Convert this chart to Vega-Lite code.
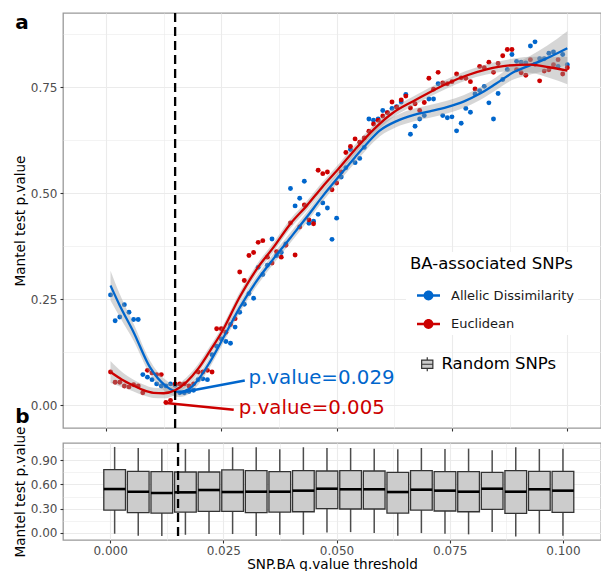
{
  "$schema": "https://vega.github.io/schema/vega-lite/v6.json",
  "padding": {"left": 12, "top": 11, "right": 0, "bottom": 0},
  "autosize": {"type": "pad"},
  "bounds": "flush",
  "spacing": 15,
  "config": {
    "font": "DejaVu Sans",
    "view": {"stroke": "#999999", "strokeWidth": 1.3},
    "axis": {"labelFont": "DejaVu Sans", "labelFontSize": 12, "labelColor": "#4D4D4D", "tickColor": "#333333", "tickSize": 3, "tickWidth": 1.1, "labelPadding": 3, "titleFont": "DejaVu Sans", "titleFontSize": 13.6, "titleFontWeight": "normal", "titleColor": "#000000", "gridColor": "#EBEBEB", "domain": false},
    "legend": {"labelFont": "DejaVu Sans", "titleFont": "DejaVu Sans"},
    "title": {"font": "DejaVu Sans"}
  },
  "datasets": {
    "pts": [
      {"x":0.001,"v":0.260,"s":"Allelic Dissimilarity"},{"x":0.002,"v":0.199,"s":"Allelic Dissimilarity"},{"x":0.003,"v":0.208,"s":"Allelic Dissimilarity"},{"x":0.004,"v":0.237,"s":"Allelic Dissimilarity"},{"x":0.005,"v":0.219,"s":"Allelic Dissimilarity"},{"x":0.006,"v":0.202,"s":"Allelic Dissimilarity"},{"x":0.007,"v":0.202,"s":"Allelic Dissimilarity"},{"x":0.008,"v":0.072,"s":"Allelic Dissimilarity"},{"x":0.009,"v":0.066,"s":"Allelic Dissimilarity"},{"x":0.010,"v":0.060,"s":"Allelic Dissimilarity"},
      {"x":0.011,"v":0.050,"s":"Allelic Dissimilarity"},{"x":0.012,"v":0.045,"s":"Allelic Dissimilarity"},{"x":0.013,"v":0.045,"s":"Allelic Dissimilarity"},{"x":0.014,"v":0.050,"s":"Allelic Dissimilarity"},{"x":0.015,"v":0.047,"s":"Allelic Dissimilarity"},{"x":0.016,"v":0.029,"s":"Allelic Dissimilarity"},{"x":0.017,"v":0.029,"s":"Allelic Dissimilarity"},{"x":0.018,"v":0.032,"s":"Allelic Dissimilarity"},{"x":0.019,"v":0.035,"s":"Allelic Dissimilarity"},{"x":0.020,"v":0.060,"s":"Allelic Dissimilarity"},
      {"x":0.021,"v":0.062,"s":"Allelic Dissimilarity"},{"x":0.022,"v":0.060,"s":"Allelic Dissimilarity"},{"x":0.023,"v":0.119,"s":"Allelic Dissimilarity"},{"x":0.024,"v":0.139,"s":"Allelic Dissimilarity"},{"x":0.025,"v":0.156,"s":"Allelic Dissimilarity"},{"x":0.026,"v":0.150,"s":"Allelic Dissimilarity"},{"x":0.027,"v":0.146,"s":"Allelic Dissimilarity"},{"x":0.028,"v":0.184,"s":"Allelic Dissimilarity"},{"x":0.029,"v":0.219,"s":"Allelic Dissimilarity"},{"x":0.030,"v":0.238,"s":"Allelic Dissimilarity"},
      {"x":0.031,"v":0.263,"s":"Allelic Dissimilarity"},{"x":0.032,"v":0.252,"s":"Allelic Dissimilarity"},{"x":0.033,"v":0.325,"s":"Allelic Dissimilarity"},{"x":0.034,"v":0.308,"s":"Allelic Dissimilarity"},{"x":0.035,"v":0.330,"s":"Allelic Dissimilarity"},{"x":0.036,"v":0.392,"s":"Allelic Dissimilarity"},{"x":0.037,"v":0.353,"s":"Allelic Dissimilarity"},{"x":0.038,"v":0.360,"s":"Allelic Dissimilarity"},{"x":0.039,"v":0.380,"s":"Allelic Dissimilarity"},{"x":0.040,"v":0.511,"s":"Allelic Dissimilarity"},
      {"x":0.041,"v":0.470,"s":"Allelic Dissimilarity"},{"x":0.042,"v":0.488,"s":"Allelic Dissimilarity"},{"x":0.043,"v":0.528,"s":"Allelic Dissimilarity"},{"x":0.044,"v":0.429,"s":"Allelic Dissimilarity"},{"x":0.045,"v":0.434,"s":"Allelic Dissimilarity"},{"x":0.046,"v":0.450,"s":"Allelic Dissimilarity"},{"x":0.047,"v":0.477,"s":"Allelic Dissimilarity"},{"x":0.048,"v":0.465,"s":"Allelic Dissimilarity"},{"x":0.049,"v":0.391,"s":"Allelic Dissimilarity"},{"x":0.050,"v":0.441,"s":"Allelic Dissimilarity"},
      {"x":0.051,"v":0.538,"s":"Allelic Dissimilarity"},{"x":0.052,"v":0.560,"s":"Allelic Dissimilarity"},{"x":0.053,"v":0.603,"s":"Allelic Dissimilarity"},{"x":0.054,"v":0.572,"s":"Allelic Dissimilarity"},{"x":0.055,"v":0.582,"s":"Allelic Dissimilarity"},{"x":0.056,"v":0.608,"s":"Allelic Dissimilarity"},{"x":0.057,"v":0.675,"s":"Allelic Dissimilarity"},{"x":0.058,"v":0.672,"s":"Allelic Dissimilarity"},{"x":0.059,"v":0.675,"s":"Allelic Dissimilarity"},{"x":0.060,"v":0.695,"s":"Allelic Dissimilarity"},
      {"x":0.061,"v":0.690,"s":"Allelic Dissimilarity"},{"x":0.062,"v":0.700,"s":"Allelic Dissimilarity"},{"x":0.063,"v":0.704,"s":"Allelic Dissimilarity"},{"x":0.064,"v":0.715,"s":"Allelic Dissimilarity"},{"x":0.065,"v":0.733,"s":"Allelic Dissimilarity"},{"x":0.066,"v":0.639,"s":"Allelic Dissimilarity"},{"x":0.067,"v":0.658,"s":"Allelic Dissimilarity"},{"x":0.068,"v":0.675,"s":"Allelic Dissimilarity"},{"x":0.069,"v":0.683,"s":"Allelic Dissimilarity"},{"x":0.070,"v":0.722,"s":"Allelic Dissimilarity"},
      {"x":0.071,"v":0.722,"s":"Allelic Dissimilarity"},{"x":0.072,"v":0.758,"s":"Allelic Dissimilarity"},{"x":0.073,"v":0.683,"s":"Allelic Dissimilarity"},{"x":0.074,"v":0.678,"s":"Allelic Dissimilarity"},{"x":0.075,"v":0.680,"s":"Allelic Dissimilarity"},{"x":0.076,"v":0.647,"s":"Allelic Dissimilarity"},{"x":0.077,"v":0.665,"s":"Allelic Dissimilarity"},{"x":0.078,"v":0.700,"s":"Allelic Dissimilarity"},{"x":0.079,"v":0.691,"s":"Allelic Dissimilarity"},{"x":0.080,"v":0.734,"s":"Allelic Dissimilarity"},
      {"x":0.081,"v":0.742,"s":"Allelic Dissimilarity"},{"x":0.082,"v":0.752,"s":"Allelic Dissimilarity"},{"x":0.083,"v":0.713,"s":"Allelic Dissimilarity"},{"x":0.084,"v":0.675,"s":"Allelic Dissimilarity"},{"x":0.085,"v":0.735,"s":"Allelic Dissimilarity"},{"x":0.086,"v":0.768,"s":"Allelic Dissimilarity"},{"x":0.087,"v":0.792,"s":"Allelic Dissimilarity"},{"x":0.088,"v":0.827,"s":"Allelic Dissimilarity"},{"x":0.089,"v":0.811,"s":"Allelic Dissimilarity"},{"x":0.090,"v":0.809,"s":"Allelic Dissimilarity"},
      {"x":0.091,"v":0.807,"s":"Allelic Dissimilarity"},{"x":0.092,"v":0.847,"s":"Allelic Dissimilarity"},{"x":0.093,"v":0.857,"s":"Allelic Dissimilarity"},{"x":0.094,"v":0.817,"s":"Allelic Dissimilarity"},{"x":0.095,"v":0.817,"s":"Allelic Dissimilarity"},{"x":0.096,"v":0.830,"s":"Allelic Dissimilarity"},{"x":0.097,"v":0.833,"s":"Allelic Dissimilarity"},{"x":0.098,"v":0.799,"s":"Allelic Dissimilarity"},{"x":0.099,"v":0.827,"s":"Allelic Dissimilarity"},{"x":0.100,"v":0.803,"s":"Allelic Dissimilarity"},
      {"x":0.001,"v":0.078,"s":"Euclidean"},{"x":0.002,"v":0.054,"s":"Euclidean"},{"x":0.003,"v":0.054,"s":"Euclidean"},{"x":0.004,"v":0.045,"s":"Euclidean"},{"x":0.005,"v":0.043,"s":"Euclidean"},{"x":0.006,"v":0.048,"s":"Euclidean"},{"x":0.007,"v":0.045,"s":"Euclidean"},{"x":0.008,"v":0.029,"s":"Euclidean"},{"x":0.009,"v":0.082,"s":"Euclidean"},{"x":0.010,"v":0.076,"s":"Euclidean"},
      {"x":0.011,"v":0.072,"s":"Euclidean"},{"x":0.012,"v":0.072,"s":"Euclidean"},{"x":0.013,"v":0.006,"s":"Euclidean"},{"x":0.014,"v":0.011,"s":"Euclidean"},{"x":0.015,"v":0.050,"s":"Euclidean"},{"x":0.016,"v":0.050,"s":"Euclidean"},{"x":0.017,"v":0.050,"s":"Euclidean"},{"x":0.018,"v":0.045,"s":"Euclidean"},{"x":0.019,"v":0.050,"s":"Euclidean"},{"x":0.020,"v":0.078,"s":"Euclidean"},
      {"x":0.021,"v":0.078,"s":"Euclidean"},{"x":0.022,"v":0.082,"s":"Euclidean"},{"x":0.023,"v":0.078,"s":"Euclidean"},{"x":0.024,"v":0.180,"s":"Euclidean"},{"x":0.025,"v":0.180,"s":"Euclidean"},{"x":0.026,"v":0.172,"s":"Euclidean"},{"x":0.027,"v":0.190,"s":"Euclidean"},{"x":0.028,"v":0.204,"s":"Euclidean"},{"x":0.029,"v":0.314,"s":"Euclidean"},{"x":0.030,"v":0.294,"s":"Euclidean"},
      {"x":0.031,"v":0.353,"s":"Euclidean"},{"x":0.032,"v":0.360,"s":"Euclidean"},{"x":0.033,"v":0.384,"s":"Euclidean"},{"x":0.034,"v":0.388,"s":"Euclidean"},{"x":0.035,"v":0.349,"s":"Euclidean"},{"x":0.036,"v":0.335,"s":"Euclidean"},{"x":0.037,"v":0.362,"s":"Euclidean"},{"x":0.038,"v":0.349,"s":"Euclidean"},{"x":0.039,"v":0.377,"s":"Euclidean"},{"x":0.040,"v":0.430,"s":"Euclidean"},
      {"x":0.041,"v":0.354,"s":"Euclidean"},{"x":0.042,"v":0.420,"s":"Euclidean"},{"x":0.043,"v":0.472,"s":"Euclidean"},{"x":0.044,"v":0.437,"s":"Euclidean"},{"x":0.045,"v":0.428,"s":"Euclidean"},{"x":0.046,"v":0.554,"s":"Euclidean"},{"x":0.047,"v":0.546,"s":"Euclidean"},{"x":0.048,"v":0.550,"s":"Euclidean"},{"x":0.049,"v":0.508,"s":"Euclidean"},{"x":0.050,"v":0.524,"s":"Euclidean"},
      {"x":0.051,"v":0.550,"s":"Euclidean"},{"x":0.052,"v":0.596,"s":"Euclidean"},{"x":0.053,"v":0.610,"s":"Euclidean"},{"x":0.054,"v":0.628,"s":"Euclidean"},{"x":0.055,"v":0.620,"s":"Euclidean"},{"x":0.056,"v":0.630,"s":"Euclidean"},{"x":0.057,"v":0.646,"s":"Euclidean"},{"x":0.058,"v":0.663,"s":"Euclidean"},{"x":0.059,"v":0.672,"s":"Euclidean"},{"x":0.060,"v":0.682,"s":"Euclidean"},
      {"x":0.061,"v":0.690,"s":"Euclidean"},{"x":0.062,"v":0.715,"s":"Euclidean"},{"x":0.063,"v":0.703,"s":"Euclidean"},{"x":0.064,"v":0.720,"s":"Euclidean"},{"x":0.065,"v":0.729,"s":"Euclidean"},{"x":0.066,"v":0.701,"s":"Euclidean"},{"x":0.067,"v":0.711,"s":"Euclidean"},{"x":0.068,"v":0.695,"s":"Euclidean"},{"x":0.069,"v":0.714,"s":"Euclidean"},{"x":0.070,"v":0.771,"s":"Euclidean"},
      {"x":0.071,"v":0.745,"s":"Euclidean"},{"x":0.072,"v":0.785,"s":"Euclidean"},{"x":0.073,"v":0.760,"s":"Euclidean"},{"x":0.074,"v":0.758,"s":"Euclidean"},{"x":0.075,"v":0.763,"s":"Euclidean"},{"x":0.076,"v":0.781,"s":"Euclidean"},{"x":0.077,"v":0.772,"s":"Euclidean"},{"x":0.078,"v":0.771,"s":"Euclidean"},{"x":0.079,"v":0.763,"s":"Euclidean"},{"x":0.080,"v":0.746,"s":"Euclidean"},
      {"x":0.081,"v":0.799,"s":"Euclidean"},{"x":0.082,"v":0.796,"s":"Euclidean"},{"x":0.083,"v":0.809,"s":"Euclidean"},{"x":0.084,"v":0.785,"s":"Euclidean"},{"x":0.085,"v":0.806,"s":"Euclidean"},{"x":0.086,"v":0.824,"s":"Euclidean"},{"x":0.087,"v":0.839,"s":"Euclidean"},{"x":0.088,"v":0.839,"s":"Euclidean"},{"x":0.089,"v":0.791,"s":"Euclidean"},{"x":0.090,"v":0.784,"s":"Euclidean"},
      {"x":0.091,"v":0.778,"s":"Euclidean"},{"x":0.092,"v":0.815,"s":"Euclidean"},{"x":0.093,"v":0.804,"s":"Euclidean"},{"x":0.094,"v":0.765,"s":"Euclidean"},{"x":0.095,"v":0.788,"s":"Euclidean"},{"x":0.096,"v":0.791,"s":"Euclidean"},{"x":0.097,"v":0.803,"s":"Euclidean"},{"x":0.098,"v":0.815,"s":"Euclidean"},{"x":0.099,"v":0.781,"s":"Euclidean"},{"x":0.100,"v":0.796,"s":"Euclidean"}
    ],
    "fit": [
      {"x":0.001,"f":0.282,"lo":0.247,"hi":0.317,"s":"Allelic Dissimilarity"},
      {"x":0.003,"f":0.235,"lo":0.208,"hi":0.262,"s":"Allelic Dissimilarity"},
      {"x":0.006,"f":0.172,"lo":0.152,"hi":0.192,"s":"Allelic Dissimilarity"},
      {"x":0.0095,"f":0.090,"lo":0.074,"hi":0.106,"s":"Allelic Dissimilarity"},
      {"x":0.013,"f":0.045,"lo":0.031,"hi":0.059,"s":"Allelic Dissimilarity"},
      {"x":0.016,"f":0.031,"lo":0.019,"hi":0.043,"s":"Allelic Dissimilarity"},
      {"x":0.018,"f":0.038,"lo":0.026,"hi":0.050,"s":"Allelic Dissimilarity"},
      {"x":0.020,"f":0.060,"lo":0.048,"hi":0.072,"s":"Allelic Dissimilarity"},
      {"x":0.0225,"f":0.101,"lo":0.089,"hi":0.113,"s":"Allelic Dissimilarity"},
      {"x":0.026,"f":0.170,"lo":0.158,"hi":0.182,"s":"Allelic Dissimilarity"},
      {"x":0.029,"f":0.230,"lo":0.218,"hi":0.242,"s":"Allelic Dissimilarity"},
      {"x":0.0325,"f":0.290,"lo":0.278,"hi":0.302,"s":"Allelic Dissimilarity"},
      {"x":0.0363,"f":0.345,"lo":0.333,"hi":0.357,"s":"Allelic Dissimilarity"},
      {"x":0.040,"f":0.395,"lo":0.383,"hi":0.407,"s":"Allelic Dissimilarity"},
      {"x":0.0435,"f":0.443,"lo":0.431,"hi":0.455,"s":"Allelic Dissimilarity"},
      {"x":0.047,"f":0.493,"lo":0.481,"hi":0.505,"s":"Allelic Dissimilarity"},
      {"x":0.0507,"f":0.542,"lo":0.530,"hi":0.554,"s":"Allelic Dissimilarity"},
      {"x":0.054,"f":0.585,"lo":0.572,"hi":0.598,"s":"Allelic Dissimilarity"},
      {"x":0.0565,"f":0.616,"lo":0.603,"hi":0.629,"s":"Allelic Dissimilarity"},
      {"x":0.0594,"f":0.648,"lo":0.634,"hi":0.662,"s":"Allelic Dissimilarity"},
      {"x":0.063,"f":0.670,"lo":0.656,"hi":0.684,"s":"Allelic Dissimilarity"},
      {"x":0.0666,"f":0.684,"lo":0.669,"hi":0.699,"s":"Allelic Dissimilarity"},
      {"x":0.0702,"f":0.693,"lo":0.678,"hi":0.708,"s":"Allelic Dissimilarity"},
      {"x":0.0739,"f":0.703,"lo":0.688,"hi":0.718,"s":"Allelic Dissimilarity"},
      {"x":0.0775,"f":0.716,"lo":0.701,"hi":0.731,"s":"Allelic Dissimilarity"},
      {"x":0.0811,"f":0.735,"lo":0.720,"hi":0.750,"s":"Allelic Dissimilarity"},
      {"x":0.0845,"f":0.758,"lo":0.743,"hi":0.773,"s":"Allelic Dissimilarity"},
      {"x":0.0883,"f":0.785,"lo":0.768,"hi":0.802,"s":"Allelic Dissimilarity"},
      {"x":0.092,"f":0.802,"lo":0.780,"hi":0.824,"s":"Allelic Dissimilarity"},
      {"x":0.0955,"f":0.818,"lo":0.789,"hi":0.847,"s":"Allelic Dissimilarity"},
      {"x":0.100,"f":0.842,"lo":0.802,"hi":0.882,"s":"Allelic Dissimilarity"},
      {"x":0.001,"f":0.078,"lo":0.052,"hi":0.104,"s":"Euclidean"},
      {"x":0.0035,"f":0.060,"lo":0.042,"hi":0.078,"s":"Euclidean"},
      {"x":0.006,"f":0.046,"lo":0.032,"hi":0.060,"s":"Euclidean"},
      {"x":0.008,"f":0.036,"lo":0.023,"hi":0.049,"s":"Euclidean"},
      {"x":0.0103,"f":0.029,"lo":0.017,"hi":0.041,"s":"Euclidean"},
      {"x":0.0125,"f":0.028,"lo":0.016,"hi":0.040,"s":"Euclidean"},
      {"x":0.015,"f":0.035,"lo":0.024,"hi":0.046,"s":"Euclidean"},
      {"x":0.0175,"f":0.055,"lo":0.044,"hi":0.066,"s":"Euclidean"},
      {"x":0.020,"f":0.086,"lo":0.075,"hi":0.097,"s":"Euclidean"},
      {"x":0.0225,"f":0.127,"lo":0.116,"hi":0.138,"s":"Euclidean"},
      {"x":0.025,"f":0.170,"lo":0.159,"hi":0.181,"s":"Euclidean"},
      {"x":0.029,"f":0.255,"lo":0.244,"hi":0.266,"s":"Euclidean"},
      {"x":0.0325,"f":0.318,"lo":0.307,"hi":0.329,"s":"Euclidean"},
      {"x":0.0363,"f":0.372,"lo":0.361,"hi":0.383,"s":"Euclidean"},
      {"x":0.040,"f":0.428,"lo":0.417,"hi":0.439,"s":"Euclidean"},
      {"x":0.0435,"f":0.470,"lo":0.459,"hi":0.481,"s":"Euclidean"},
      {"x":0.047,"f":0.516,"lo":0.505,"hi":0.527,"s":"Euclidean"},
      {"x":0.0507,"f":0.561,"lo":0.550,"hi":0.572,"s":"Euclidean"},
      {"x":0.054,"f":0.603,"lo":0.592,"hi":0.614,"s":"Euclidean"},
      {"x":0.058,"f":0.650,"lo":0.639,"hi":0.661,"s":"Euclidean"},
      {"x":0.062,"f":0.688,"lo":0.677,"hi":0.699,"s":"Euclidean"},
      {"x":0.0666,"f":0.717,"lo":0.706,"hi":0.728,"s":"Euclidean"},
      {"x":0.070,"f":0.737,"lo":0.726,"hi":0.748,"s":"Euclidean"},
      {"x":0.0739,"f":0.758,"lo":0.747,"hi":0.769,"s":"Euclidean"},
      {"x":0.078,"f":0.777,"lo":0.766,"hi":0.788,"s":"Euclidean"},
      {"x":0.0825,"f":0.792,"lo":0.780,"hi":0.804,"s":"Euclidean"},
      {"x":0.087,"f":0.801,"lo":0.787,"hi":0.815,"s":"Euclidean"},
      {"x":0.092,"f":0.803,"lo":0.784,"hi":0.822,"s":"Euclidean"},
      {"x":0.096,"f":0.797,"lo":0.772,"hi":0.822,"s":"Euclidean"},
      {"x":0.100,"f":0.789,"lo":0.757,"hi":0.821,"s":"Euclidean"}
    ],
    "ann": [
      {"s":"Allelic Dissimilarity","x0":0.016,"y0":0.029,"x1":0.0301,"y1":0.058,"tx":0.0309,"ty":0.050,"label":"p.value=0.029"},
      {"s":"Euclidean","x0":0.013,"y0":0.005,"x1":0.0277,"y1":-0.011,"tx":0.0288,"ty":-0.0205,"label":"p.value=0.005"}
    ],
    "thr": [{"t": 0.015}],
    "box": [
      {"x":0.001,"lo":-0.012,"q1":0.282,"med":0.543,"q3":0.784,"hi":1.066,"g":"Random SNPs"},
      {"x":0.00621,"lo":-0.037,"q1":0.249,"med":0.510,"q3":0.763,"hi":1.053,"g":"Random SNPs"},
      {"x":0.01142,"lo":-0.041,"q1":0.245,"med":0.494,"q3":0.759,"hi":1.045,"g":"Random SNPs"},
      {"x":0.01663,"lo":-0.025,"q1":0.257,"med":0.502,"q3":0.755,"hi":1.041,"g":"Random SNPs"},
      {"x":0.02184,"lo":-0.016,"q1":0.266,"med":0.531,"q3":0.755,"hi":1.037,"g":"Random SNPs"},
      {"x":0.02705,"lo":-0.016,"q1":0.266,"med":0.506,"q3":0.780,"hi":1.062,"g":"Random SNPs"},
      {"x":0.03226,"lo":-0.041,"q1":0.249,"med":0.510,"q3":0.771,"hi":1.062,"g":"Random SNPs"},
      {"x":0.03747,"lo":-0.025,"q1":0.257,"med":0.510,"q3":0.759,"hi":1.037,"g":"Random SNPs"},
      {"x":0.04268,"lo":-0.025,"q1":0.261,"med":0.523,"q3":0.771,"hi":1.062,"g":"Random SNPs"},
      {"x":0.04789,"lo":0.004,"q1":0.299,"med":0.547,"q3":0.767,"hi":1.053,"g":"Random SNPs"},
      {"x":0.05311,"lo":0.008,"q1":0.295,"med":0.540,"q3":0.771,"hi":1.053,"g":"Random SNPs"},
      {"x":0.05832,"lo":-0.004,"q1":0.295,"med":0.540,"q3":0.767,"hi":1.045,"g":"Random SNPs"},
      {"x":0.06353,"lo":-0.037,"q1":0.245,"med":0.506,"q3":0.751,"hi":1.037,"g":"Random SNPs"},
      {"x":0.06874,"lo":-0.004,"q1":0.282,"med":0.535,"q3":0.771,"hi":1.053,"g":"Random SNPs"},
      {"x":0.07395,"lo":-0.012,"q1":0.270,"med":0.523,"q3":0.759,"hi":1.041,"g":"Random SNPs"},
      {"x":0.07916,"lo":-0.020,"q1":0.261,"med":0.510,"q3":0.759,"hi":1.045,"g":"Random SNPs"},
      {"x":0.08437,"lo":0.008,"q1":0.291,"med":0.547,"q3":0.751,"hi":1.025,"g":"Random SNPs"},
      {"x":0.08958,"lo":-0.045,"q1":0.241,"med":0.510,"q3":0.771,"hi":1.062,"g":"Random SNPs"},
      {"x":0.09479,"lo":-0.012,"q1":0.278,"med":0.540,"q3":0.763,"hi":1.041,"g":"Random SNPs"},
      {"x":0.100,"lo":-0.037,"q1":0.253,"med":0.523,"q3":0.763,"hi":1.045,"g":"Random SNPs"}
    ]
  },
  "resolve": {"scale": {"color": "independent", "fill": "independent", "stroke": "independent", "y": "independent"}, "legend": {"color": "independent", "fill": "independent"}},
  "vconcat": [
    {
      "width": 538,
      "height": 415,
      "title": {"text": "a", "anchor": "start", "frame": "bounds", "orient": "top", "fontSize": 20, "fontWeight": "bold", "color": "#000000", "baseline": "top", "offset": -20.7, "dx": 2},
      "resolve": {"axis": {"x": "independent", "y": "independent"}},
      "layer": [
        {
          "data": {"name": "pts"},
          "mark": {"type": "point", "filled": true, "size": 24, "opacity": 1},
          "encoding": {
            "x": {"field": "x", "type": "quantitative", "scale": {"domain": [-0.0093, 0.1073], "nice": false, "zero": false}, "axis": {"orient": "top", "values": [0.0125, 0.0375, 0.0625, 0.0875], "grid": true, "gridWidth": 0.6, "labels": false, "ticks": false, "title": null}},
            "y": {"field": "v", "type": "quantitative", "scale": {"domain": [-0.054, 0.925], "nice": false, "zero": false}, "axis": {"orient": "right", "values": [0.125, 0.375, 0.625, 0.875], "grid": true, "gridWidth": 0.6, "labels": false, "ticks": false, "title": null}},
            "color": {"field": "s", "type": "nominal", "scale": {"domain": ["Allelic Dissimilarity", "Euclidean"], "range": ["#0066CC", "#CC0000"]},
              "legend": {"title": "BA-associated SNPs", "orient": "none", "legendX": 343, "legendY": 239, "padding": 4, "fillColor": "#FFFFFF",
                "symbolType": "M-1,-0.1L1,-0.1L1,0.1L-1,0.1Z M-0.43,0A0.43,0.43 0 1,1 0.43,0A0.43,0.43 0 1,1 -0.43,0Z",
                "symbolSize": 529, "symbolStrokeWidth": 0, "symbolOpacity": 1, "symbolOffset": 7,
                "labelFontSize": 13, "labelColor": "#1A1A1A", "labelOffset": 11,
                "titleFontSize": 16.5, "titleFontWeight": "normal", "titleColor": "#000000", "titlePadding": 11.5, "rowPadding": 9.5}}
          }
        },
        {
          "data": {"name": "fit"},
          "mark": {"type": "area", "color": "#999999", "opacity": 0.4, "interpolate": "monotone"},
          "encoding": {
            "x": {"field": "x", "type": "quantitative", "scale": {"domain": [-0.0093, 0.1073], "nice": false, "zero": false}, "axis": {"orient": "bottom", "values": [0, 0.025, 0.05, 0.075, 0.1], "grid": true, "gridWidth": 1.1, "labels": false, "ticks": true, "title": null}},
            "y": {"field": "lo", "type": "quantitative", "scale": {"domain": [-0.054, 0.925], "nice": false, "zero": false}, "axis": {"orient": "left", "values": [0, 0.25, 0.5, 0.75], "format": ".2f", "grid": true, "gridWidth": 1.1, "title": "Mantel test p.value", "titlePadding": 3}},
            "y2": {"field": "hi"},
            "detail": {"field": "s"}
          }
        },
        {
          "data": {"name": "fit"},
          "mark": {"type": "line", "strokeWidth": 2.3, "interpolate": "monotone"},
          "encoding": {
            "x": {"field": "x", "type": "quantitative", "axis": null},
            "y": {"field": "f", "type": "quantitative", "axis": null},
            "stroke": {"field": "s", "type": "nominal", "scale": {"domain": ["Allelic Dissimilarity", "Euclidean"], "range": ["#0066CC", "#CC0000"]}, "legend": null}
          }
        },
        {
          "data": {"name": "thr"},
          "mark": {"type": "rule", "color": "#000000", "strokeWidth": 2.3, "strokeDash": [9, 5]},
          "encoding": {"x": {"field": "t", "type": "quantitative", "axis": null}}
        },
        {
          "data": {"name": "ann"},
          "mark": {"type": "rule", "strokeWidth": 2.5},
          "encoding": {
            "x": {"field": "x0", "type": "quantitative", "axis": null},
            "y": {"field": "y0", "type": "quantitative", "axis": null},
            "x2": {"field": "x1"},
            "y2": {"field": "y1"},
            "stroke": {"field": "s", "type": "nominal", "scale": {"domain": ["Allelic Dissimilarity", "Euclidean"], "range": ["#0066CC", "#CC0000"]}, "legend": null}
          }
        },
        {
          "data": {"name": "ann"},
          "mark": {"type": "text", "align": "left", "baseline": "alphabetic", "fontSize": 19.8},
          "encoding": {
            "x": {"field": "tx", "type": "quantitative", "axis": null},
            "y": {"field": "ty", "type": "quantitative", "axis": null},
            "text": {"field": "label"},
            "fill": {"field": "s", "type": "nominal", "scale": {"domain": ["Allelic Dissimilarity", "Euclidean"], "range": ["#0066CC", "#CC0000"]}, "legend": null}
          }
        }
      ]
    },
    {
      "width": 538,
      "height": 97,
      "title": {"text": "b", "anchor": "start", "frame": "bounds", "orient": "top", "fontSize": 20, "fontWeight": "bold", "color": "#000000", "baseline": "bottom", "offset": -91, "dx": 2},
      "resolve": {"axis": {"x": "independent", "y": "independent"}},
      "layer": [
        {
          "data": {"name": "box"},
          "mark": {"type": "rule", "color": "#4D4D4D", "strokeWidth": 1.5},
          "encoding": {
            "x": {"field": "x", "type": "quantitative", "scale": {"domain": [-0.0093, 0.1073], "nice": false, "zero": false}, "axis": {"orient": "top", "values": [0.0125, 0.0375, 0.0625, 0.0875], "grid": true, "gridWidth": 0.6, "labels": false, "ticks": false, "title": null}},
            "y": {"field": "lo", "type": "quantitative", "scale": {"domain": [-0.09, 1.115], "nice": false, "zero": false}, "axis": {"orient": "right", "values": [0.15, 0.45, 0.75, 1.05], "grid": true, "gridWidth": 0.6, "labels": false, "ticks": false, "title": null}},
            "y2": {"field": "hi"}
          }
        },
        {
          "data": {"name": "box"},
          "mark": {"type": "bar", "orient": "vertical", "width": 21.7, "stroke": "#333333", "strokeWidth": 1.3},
          "encoding": {
            "x": {"field": "x", "type": "quantitative", "scale": {"domain": [-0.0093, 0.1073], "nice": false, "zero": false}, "axis": {"orient": "bottom", "values": [0, 0.025, 0.05, 0.075, 0.1], "format": ".3f", "grid": true, "gridWidth": 1.1, "title": "SNP.BA q.value threshold", "labelPadding": 2, "titlePadding": 1.5}},
            "y": {"field": "q1", "type": "quantitative", "scale": {"domain": [-0.09, 1.115], "nice": false, "zero": false}, "axis": {"orient": "left", "values": [0, 0.3, 0.6, 0.9], "format": ".2f", "grid": true, "gridWidth": 1.1, "title": "Mantel test p.value", "titlePadding": 3}},
            "y2": {"field": "q3"},
            "fill": {"field": "g", "type": "nominal", "scale": {"range": ["#CCCCCC"]},
              "legend": {"title": null, "orient": "none", "legendX": 356, "legendY": -87, "padding": 0,
                "symbolType": "M0,-1L0,-0.6M-0.8,-0.6L0.8,-0.6L0.8,0.6L-0.8,0.6Z M-0.8,0L0.8,0 M0,0.6L0,1",
                "symbolSize": 196, "symbolStrokeColor": "#333333", "symbolStrokeWidth": 1.2, "symbolOpacity": 1,
                "labelFontSize": 16.5, "labelColor": "#000000", "labelOffset": 6}}
          }
        },
        {
          "data": {"name": "box"},
          "mark": {"type": "tick", "orient": "horizontal", "size": 21.7, "thickness": 2.6, "color": "#000000", "opacity": 1},
          "encoding": {
            "x": {"field": "x", "type": "quantitative", "axis": null},
            "y": {"field": "med", "type": "quantitative", "axis": null}
          }
        },
        {
          "data": {"name": "thr"},
          "mark": {"type": "rule", "color": "#000000", "strokeWidth": 2.3, "strokeDash": [9, 5]},
          "encoding": {"x": {"field": "t", "type": "quantitative", "axis": null}}
        }
      ]
    }
  ]
}
